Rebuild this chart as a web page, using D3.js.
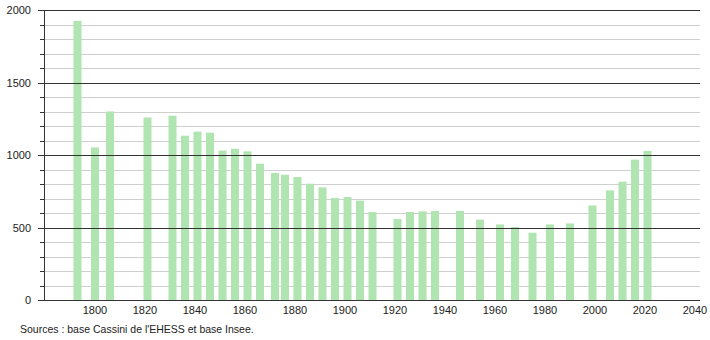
<!DOCTYPE html>
<html><head><meta charset="utf-8">
<script src="https://cdn.jsdelivr.net/npm/d3@7"></script>
<style>body{margin:0;background:#fff}svg{display:block;font-family:"Liberation Sans",Arial,sans-serif}</style>
</head><body><svg id="c" width="710" height="340"></svg>
<script>
const years = [1793,1800,1806,1821,1831,1836,1841,1846,1851,1856,1861,1866,1872,1876,1881,1886,1891,1896,1901,1906,1911,1921,1926,1931,1936,1946,1954,1962,1968,1975,1982,1990,1999,2006,2011,2016,2021];
const population = [1925,1052,1300,1259,1271,1133,1161,1154,1030,1043,1025,940,876,864,848,802,777,703,710,685,607,559,607,611,614,614,555,521,503,464,521,528,652,756,816,968,1028];
const xTicks = [1800,1820,1840,1860,1880,1900,1920,1940,1960,1980,2000,2020,2040];
const yTicks = [0,500,1000,1500,2000];
const source = "Sources : base Cassini de l'EHESS et base Insee.";

const svg = d3.select("#c");
const L = 44, R = 700, T = 10, B = 300;
const x = d3.scaleLinear().domain([1779.6, 2042]).range([L, R]);
const y = d3.scaleLinear().domain([0, 2000]).range([B, T]);

// minor gridlines
const minor = d3.range(100, 2000, 100).filter(v => v % 500 !== 0);
svg.append("g").selectAll("line").data(minor).join("line")
  .attr("x1", L - 4).attr("x2", R).attr("y1", d => Math.round(y(d)) + 0.5).attr("y2", d => Math.round(y(d)) + 0.5)
  .attr("stroke", "#cfcfcf").attr("stroke-width", 1);
svg.append("g").selectAll("line").data(minor).join("line")
  .attr("x1", L - 4).attr("x2", L).attr("y1", d => Math.round(y(d)) + 0.5).attr("y2", d => Math.round(y(d)) + 0.5)
  .attr("stroke", "#333");

// bars
const bw = 8;
svg.append("g").selectAll("rect").data(years).join("rect")
  .attr("x", (d) => x(d) - bw / 2)
  .attr("y", (d, i) => y(population[i]))
  .attr("width", bw)
  .attr("height", (d, i) => y(0) - y(population[i]))
  .attr("fill", "#b0e4b0");

// major gridlines
svg.append("g").selectAll("line").data(yTicks).join("line")
  .attr("x1", L - 6).attr("x2", R).attr("y1", d => Math.round(y(d)) + 0.5).attr("y2", d => Math.round(y(d)) + 0.5)
  .attr("stroke", "#333").attr("stroke-width", 1);

// y axis line
svg.append("line").attr("x1", L + 0.5).attr("x2", L + 0.5).attr("y1", T).attr("y2", B + 0.5).attr("stroke", "#333");

// y labels
svg.append("g").selectAll("text").data(yTicks).join("text")
  .attr("x", 31).attr("y", d => y(d) + 4).attr("text-anchor", "end")
  .attr("font-size", 11).attr("fill", "#222").text(d => d);

// x labels
svg.append("g").selectAll("text").data(xTicks).join("text")
  .attr("x", d => x(d)).attr("y", 314).attr("text-anchor", "middle")
  .attr("font-size", 11).attr("fill", "#222").text(d => d);

svg.append("text").attr("x", 20).attr("y", 333).attr("font-size", 10.5).attr("fill", "#222").text(source);
</script></body></html>
